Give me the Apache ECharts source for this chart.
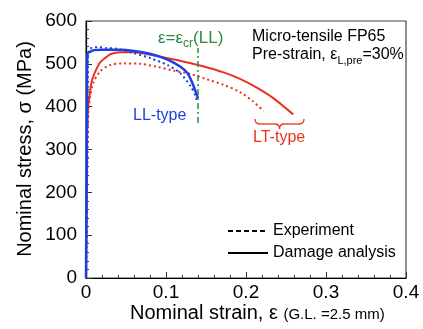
<!DOCTYPE html>
<html>
<head>
<meta charset="utf-8">
<script src="https://cdn.jsdelivr.net/npm/echarts@6/dist/echarts.min.js"></script>
<style>
  html, body { margin: 0; padding: 0; background: #fff; }
  #chart { width: 423px; height: 329px; }
</style>
</head>
<body>
<div id="chart"></div>
<script>
// LL-type specimen
const llExpStrain = [0, 0.0012, 0.002, 0.0025, 0.004, 0.008, 0.015, 0.025, 0.039, 0.06, 0.081, 0.102, 0.118, 0.131, 0.137, 0.139];
const llExpStress = [0, 200, 420, 515, 533, 538, 539, 537, 535, 525, 513, 497, 478, 447, 425, 410];
const llSimStrain = [0, 0.0008, 0.0013, 0.0018, 0.005, 0.01, 0.02, 0.03, 0.043, 0.06, 0.081, 0.102, 0.118, 0.127, 0.133, 0.137, 0.14];
const llSimStress = [0, 250, 460, 524, 528, 532, 533, 533, 533, 530, 523, 510, 493, 478, 455, 435, 420];
// LT-type specimen
const ltExpStrain = [0, 0.0015, 0.003, 0.005, 0.009, 0.0175, 0.03, 0.0475, 0.068, 0.089, 0.11, 0.131, 0.151, 0.172, 0.1925, 0.209, 0.222];
const ltExpStress = [0, 250, 388, 420, 455, 482, 497, 501, 500, 493, 484, 476, 464, 451, 434, 412, 390];
const ltSimStrain = [0, 0.0012, 0.002, 0.004, 0.007, 0.01, 0.0175, 0.025, 0.031, 0.043, 0.06, 0.081, 0.102, 0.1225, 0.145, 0.172, 0.1925, 0.213, 0.234, 0.259];
const ltSimStress = [0, 250, 380, 420, 458, 475, 503, 515, 523, 527, 527, 521, 513, 505, 495, 480, 465, 445, 420, 382];
// critical strain marker
const critStrain = [0.14, 0.14];
const critStress = [362, 537];

const xTicks = [0, 0.1, 0.2, 0.3, 0.4];
const yTicks = [0, 100, 200, 300, 400, 500, 600];

const FONT = "'Liberation Sans', Arial, sans-serif";
const BLUE = "#1c3fe3";
const RED = "#e8341c";
const GREEN = "#2a8a40";

const zip = (xs, ys) => xs.map((x, i) => [x, ys[i]]);

const chart = echarts.init(document.getElementById("chart"), null, { renderer: "canvas" });

const dotted = [2, 3];
const braceStyle = { stroke: RED, lineWidth: 1.3, fill: null };

chart.setOption({
  animation: false,
  grid: {
    left: 86, right: 17, top: 21, bottom: 51,
    show: true, borderColor: "#444", borderWidth: 1.2, backgroundColor: "transparent"
  },
  xAxis: {
    type: "value",
    min: xTicks[0], max: xTicks[xTicks.length - 1], interval: 0.1,
    axisLine: { lineStyle: { color: "#000", width: 1.2 } },
    axisTick: { inside: true, length: 6, lineStyle: { color: "#333" } },
    minorTick: { show: true, splitNumber: 5, length: 3, lineStyle: { color: "#333" } },
    splitLine: { show: false },
    axisLabel: {
      fontSize: 19, color: "#000", fontFamily: FONT, margin: 5,
      formatter: (v) => (v === 0 ? "0" : String(+v.toFixed(1)))
    }
  },
  yAxis: {
    type: "value",
    min: yTicks[0], max: yTicks[yTicks.length - 1], interval: 100,
    axisLine: { show: true, lineStyle: { color: "#000", width: 1.2 } },
    axisTick: { show: true, inside: true, length: 6, lineStyle: { color: "#333" } },
    minorTick: { show: true, splitNumber: 5, length: 3, lineStyle: { color: "#333" } },
    splitLine: { show: false },
    axisLabel: { fontSize: 19, color: "#000", fontFamily: FONT, margin: 9 }
  },
  legend: {
    left: 227, top: 223, orient: "vertical", padding: 0,
    itemWidth: 40, itemHeight: 14, itemGap: 6,
    itemStyle: { opacity: 0 },
    textStyle: { fontSize: 16, color: "#000", fontFamily: FONT },
    data: ["Experiment", "Damage analysis"]
  },
  series: [
    { name: "Experiment", type: "line", data: [], symbol: "none",
      itemStyle: { color: "#000" }, lineStyle: { color: "#000", width: 1.5, type: [5, 3] } },
    { name: "Damage analysis", type: "line", data: [], symbol: "none",
      itemStyle: { color: "#000" }, lineStyle: { color: "#000", width: 1.5 } },
    { name: "LT exp", type: "line", data: zip(ltExpStrain, ltExpStress), symbol: "none", smooth: 0.3,
      lineStyle: { color: RED, width: 2, type: dotted } },
    { name: "LT sim", type: "line", data: zip(ltSimStrain, ltSimStress), symbol: "none", smooth: 0.3,
      lineStyle: { color: RED, width: 2 } },
    { name: "LL exp", type: "line", data: zip(llExpStrain, llExpStress), symbol: "none", smooth: 0.25,
      lineStyle: { color: BLUE, width: 2, type: dotted } },
    { name: "LL sim", type: "line", data: zip(llSimStrain, llSimStress), symbol: "none", smooth: 0.25,
      lineStyle: { color: BLUE, width: 2.5 } },
    { name: "crit", type: "line", data: zip(critStrain, critStress), symbol: "none",
      lineStyle: { color: GREEN, width: 1.5, type: [6, 3, 2, 3] } }
  ],
  graphic: [
    { type: "text", x: 25, y: 149, rotation: Math.PI / 2,
      style: { text: "Nominal stress, σ (MPa)", font: "20px " + FONT, fill: "#000", align: "center", verticalAlign: "middle" } },
    { type: "text", x: 130, y: 313,
      style: {
        text: "{a|Nominal strain, ε }{b|(G.L. =2.5 mm)}", fill: "#000", align: "left", verticalAlign: "middle",
        rich: { a: { fontSize: 20, fontFamily: FONT }, b: { fontSize: 15, fontFamily: FONT, padding: [3, 0, 0, 0] } }
      } },
    { type: "text", x: 158, y: 38,
      style: {
        text: "{m|ε=ε}{s|cr}{m|(LL)}", fill: GREEN, align: "left", verticalAlign: "middle",
        rich: { m: { fontSize: 17, fontFamily: FONT, fill: GREEN }, s: { fontSize: 12, fontFamily: FONT, fill: GREEN, padding: [12, 0, 0, 0] } }
      } },
    { type: "text", x: 252, y: 37,
      style: { text: "Micro-tensile FP65", font: "16px " + FONT, fill: "#000", align: "left", verticalAlign: "middle" } },
    { type: "text", x: 252, y: 55,
      style: {
        text: "{m|Pre-strain, ε}{s|L,pre}{m|=30%}", fill: "#000", align: "left", verticalAlign: "middle",
        rich: { m: { fontSize: 16, fontFamily: FONT }, s: { fontSize: 11, fontFamily: FONT, padding: [11, 0, 0, 0] } }
      } },
    { type: "text", x: 133, y: 116,
      style: { text: "LL-type", font: "16px " + FONT, fill: BLUE, align: "left", verticalAlign: "middle" } },
    { type: "text", x: 253, y: 138,
      style: { text: "LT-type", font: "16px " + FONT, fill: RED, align: "left", verticalAlign: "middle" } },
    // curly brace under the LT curve ends
    { type: "bezierCurve", shape: { x1: 255, y1: 119, cpx1: 255, cpy1: 124, x2: 260, y2: 124 }, style: braceStyle },
    { type: "line", shape: { x1: 260, y1: 124, x2: 275, y2: 124 }, style: braceStyle },
    { type: "bezierCurve", shape: { x1: 275, y1: 124, cpx1: 279.5, cpy1: 124, x2: 279.5, y2: 129 }, style: braceStyle },
    { type: "bezierCurve", shape: { x1: 279.5, y1: 129, cpx1: 279.5, cpy1: 124, x2: 284, y2: 124 }, style: braceStyle },
    { type: "line", shape: { x1: 284, y1: 124, x2: 299, y2: 124 }, style: braceStyle },
    { type: "bezierCurve", shape: { x1: 299, y1: 124, cpx1: 304, cpy1: 124, x2: 304, y2: 119 }, style: braceStyle }
  ]
});
</script>
</body>
</html>
